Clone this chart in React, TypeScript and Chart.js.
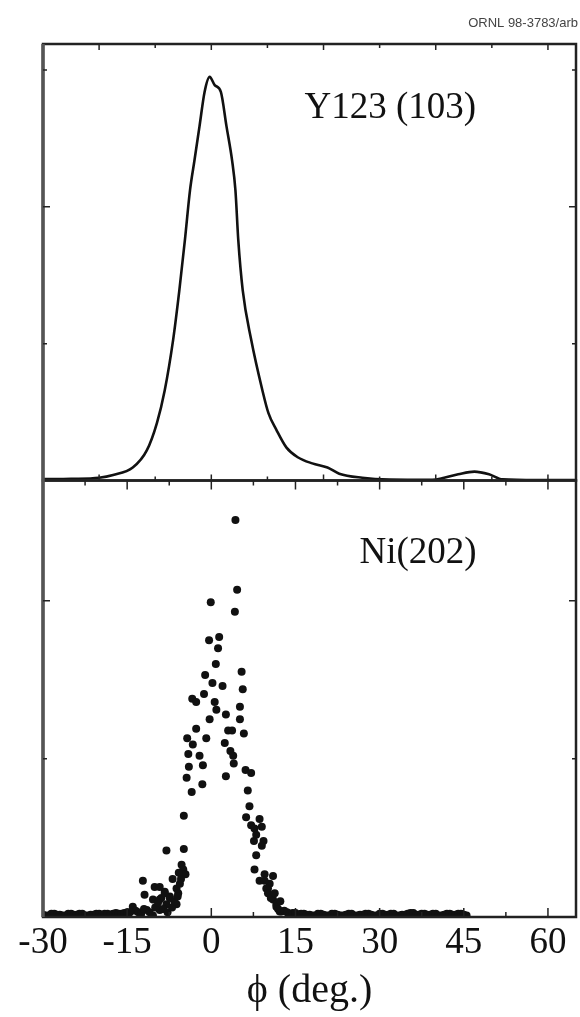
import React, { useEffect, useRef } from "react";
import { Chart, registerables } from "chart.js";

Chart.register(...registerables);

// ---- axis ranges & ticks ----
const X_MIN = -30;
const X_MAX = 65;
const X_TICK_LABELS = [-30, -15, 0, 15, 30, 45, 60];
const TOP_PANEL_EDGE_TICKS = [-20, -10, 0, 10, 20, 30, 40, 50, 60];
const BOTTOM_PANEL_EDGE_TICKS = [-22.5, -15, -7.5, 0, 7.5, 15, 22.5, 30, 37.5, 45, 52.5, 60];
const TOP_Y_MAX = 3.19;
const BOTTOM_Y_MAX = 2.76;
const TOP_Y_TICKS = [1, 2, 3];
const BOTTOM_Y_TICKS = [1, 2];

// ---- Y123 (103) phi-scan (line) ----
const y123Angle = [
  -30, -25, -20, -17.5, -14, -11.5, -9.7, -8.3, -6.8, -5.7, -4.7, -3.8, -3.0, -2.1, -1.2, -0.3,
  0.6, 1.7, 2.7, 3.7, 4.3, 4.8, 5.6, 7.1, 9.1, 10.2, 11.6, 13.4, 15.4, 18.0, 20.7, 22.8, 26.9,
  31.7, 39.4, 41.5, 44.0, 46.9, 49.5, 51.9, 58, 65,
];
const y123Intensity = [
  0.01, 0.012, 0.02, 0.04, 0.095, 0.22, 0.42, 0.66, 1.03, 1.39, 1.76, 2.12, 2.34, 2.59, 2.84, 2.95,
  2.89, 2.84, 2.59, 2.34, 2.12, 1.76, 1.39, 1.03, 0.66, 0.49, 0.37, 0.24, 0.17, 0.125, 0.095, 0.05, 0.02,
  0.007, 0.005, 0.02, 0.045, 0.065, 0.045, 0.008, 0.003, 0.003,
];

// ---- Ni (202) phi-scan (points) ----
const niPeakAngle = [
  4.3, 4.6, -0.1, 4.2, -0.4, 1.4, 1.2, 0.8, 5.4, -1.1, 0.2, 2.0, 5.6, -3.4, -2.7, -1.3,
  0.6, 5.1, 0.9, 2.6, -0.3, 5.1, -2.7, 3.0, 5.8, -4.3, -0.9, 3.7, 2.4, -3.3, 3.4, -4.1,
  -2.1, 3.9, -1.5, -4.0, 4.0, 6.1, 7.1, 2.6, -4.4, -1.6, -3.5, 6.5, 6.8, -4.9, 6.2, 8.6,
  7.1, 9.0, 7.7, 7.6, 9.3, 9.0, 8.0, 8.0, -8.0, -4.9, -5.3, -5.0, -4.6, 7.7, 9.5, 11.0,
  -12.2, -6.9, -10.1, -9.2, -11.9, 10.1, 10.4, -5.8, -8.3, -6.2, -7.4, -8.9, -10.4, -6.2, -14.0, 11.0,
  11.6, -11.5, -9.2, -8.0, -10.4, 12.5, 8.6, 9.5, 9.8, -5.9, -8.3, 10.1, -9.2, -7.4, 11.6, 12.2,
  -13.5, -13.0, -12.5, -12.0, -11.0, -10.0, -9.5, -8.6, -7.8, -7.0, -6.6, -6.0, -5.6, -5.4,
  10.6, 11.3, 11.9, 12.3, 13.0,
];
const niPeakCounts = [
  2.51, 2.07, 1.99, 1.93, 1.75, 1.77, 1.70, 1.60, 1.55, 1.53, 1.48, 1.46, 1.44, 1.38, 1.36, 1.41,
  1.36, 1.33, 1.31, 1.28, 1.25, 1.25, 1.19, 1.18, 1.16, 1.13, 1.13, 1.18, 1.10, 1.09, 1.05, 1.03,
  1.02, 1.02, 0.96, 0.95, 0.97, 0.93, 0.91, 0.89, 0.88, 0.84, 0.79, 0.80, 0.70, 0.64, 0.63, 0.62,
  0.58, 0.57, 0.56, 0.48, 0.48, 0.45, 0.52, 0.39, 0.42, 0.43, 0.33, 0.30, 0.27, 0.30, 0.27, 0.26,
  0.23, 0.24, 0.19, 0.19, 0.14, 0.18, 0.21, 0.28, 0.16, 0.18, 0.13, 0.12, 0.11, 0.08, 0.065, 0.11,
  0.08, 0.045, 0.045, 0.08, 0.01, 0.035, 0.23, 0.23, 0.18, 0.15, 0.15, 0.15, 0.11, 0.12, 0.065, 0.035,
  0.04, 0.03, 0.02, 0.05, 0.03, 0.06, 0.09, 0.05, 0.03, 0.06, 0.10, 0.13, 0.21, 0.24,
  0.12, 0.15, 0.05, 0.10, 0.04,
];
const niBaseAngle = [
  -30, -29.5, -29, -28.5, -28, -27.5, -27, -26.5, -26, -25.5, -25, -24.5, -24, -23.5, -23, -22.5,
  -22, -21.5, -21, -20.5, -20, -19.5, -19, -18.5, -18, -17.5, -17, -16.5, -16, -15.5, -15, -14.5,
  13.5, 14, 14.5, 15, 15.5, 16, 16.5, 17, 17.5, 18, 18.5, 19, 19.5, 20, 20.5, 21, 21.5, 22, 22.5,
  23, 23.5, 24, 24.5, 25, 25.5, 26, 26.5, 27, 27.5, 28, 28.5, 29, 29.5, 30, 30.5, 31, 31.5, 32,
  32.5, 33, 33.5, 34, 34.5, 35, 35.5, 36, 36.5, 37, 37.5, 38, 38.5, 39, 39.5, 40, 40.5, 41, 41.5,
  42, 42.5, 43, 43.5, 44, 44.5, 45, 45.5,
];
const niBaseCounts = [
  0.015, 0.01, 0.01, 0.02, 0.02, 0.015, 0.015, 0.01, 0.01, 0.02, 0.02, 0.015, 0.015, 0.02, 0.02, 0.01,
  0.01, 0.015, 0.015, 0.02, 0.02, 0.015, 0.02, 0.02, 0.015, 0.02, 0.025, 0.02, 0.02, 0.025, 0.03, 0.03,
  0.03, 0.02, 0.025, 0.025, 0.015, 0.02, 0.02, 0.015, 0.015, 0.01, 0.01, 0.02, 0.02, 0.015, 0.01, 0.01,
  0.02, 0.02, 0.015, 0.01, 0.01, 0.015, 0.02, 0.02, 0.01, 0.01, 0.015, 0.015, 0.02, 0.02, 0.015, 0.01,
  0.01, 0.02, 0.02, 0.015, 0.015, 0.02, 0.02, 0.01, 0.01, 0.015, 0.015, 0.02, 0.025, 0.025, 0.015, 0.015,
  0.02, 0.02, 0.015, 0.015, 0.02, 0.02, 0.01, 0.01, 0.015, 0.02, 0.02, 0.015, 0.015, 0.02, 0.02, 0.015, 0.01,
];

const SERIF = '"Liberation Serif", "Times New Roman", serif';
const INK = "#111";

const framePlugin = {
  id: "framePlugin",
  afterDatasetsDraw(chart: any) {
    const { ctx } = chart;
    const xs = chart.scales.x;
    const yt = chart.scales.yTop;
    const yb = chart.scales.yBot;
    const L = xs.left;
    const R = xs.right;
    ctx.save();
    ctx.strokeStyle = "#222";
    ctx.lineWidth = 2.5;
    ctx.strokeRect(L, yt.top, R - L, yt.bottom - yt.top);
    ctx.strokeRect(L, yb.top, R - L, yb.bottom - yb.top);
    ctx.strokeStyle = "#555";
    ctx.lineWidth = 3.5;
    ctx.beginPath();
    ctx.moveTo(L, yt.top);
    ctx.lineTo(L, yb.bottom);
    ctx.stroke();

    ctx.strokeStyle = "#222";
    ctx.lineWidth = 1.5;
    ctx.beginPath();
    // top panel: ticks every 10 deg on its top and bottom edges (inward)
    TOP_PANEL_EDGE_TICKS.forEach((v) => {
      const p = xs.getPixelForValue(v);
      const len = v % 20 === 0 ? 6 : 4;
      ctx.moveTo(p, yt.top);
      ctx.lineTo(p, yt.top + len);
      ctx.moveTo(p, yt.bottom);
      ctx.lineTo(p, yt.bottom - len);
    });
    // bottom panel: ticks every 7.5 deg on its top and bottom edges (inward)
    BOTTOM_PANEL_EDGE_TICKS.forEach((v) => {
      const p = xs.getPixelForValue(v);
      const len = v % 15 === 0 ? 9 : 5;
      ctx.moveTo(p, yb.top);
      ctx.lineTo(p, yb.top + len);
      ctx.moveTo(p, yb.bottom);
      ctx.lineTo(p, yb.bottom - len);
    });
    // y ticks on left and right edges
    const yTicks = (scale: any, vals: number[]) => {
      vals.forEach((v) => {
        const p = scale.getPixelForValue(v);
        const len = v % 2 === 0 ? 7 : 4;
        ctx.moveTo(L, p);
        ctx.lineTo(L + len, p);
        ctx.moveTo(R, p);
        ctx.lineTo(R - len, p);
      });
    };
    yTicks(yt, TOP_Y_TICKS);
    yTicks(yb, BOTTOM_Y_TICKS);
    ctx.stroke();

    // panel labels
    ctx.fillStyle = INK;
    ctx.font = `37px ${SERIF}`;
    ctx.textAlign = "left";
    ctx.textBaseline = "alphabetic";
    ctx.fillText("Y123 (103)", xs.getPixelForValue(16.6), yt.getPixelForValue(2.65));
    ctx.fillText("Ni(202)", xs.getPixelForValue(26.4), yb.getPixelForValue(2.24));

    // figure id
    ctx.fillStyle = "#444";
    ctx.font = '13px "Liberation Sans", Arial, sans-serif';
    ctx.textAlign = "right";
    ctx.fillText("ORNL 98-3783/arb", chart.width - 2, 27);
    ctx.restore();
  },
};

export default function App() {
  const ref = useRef<HTMLCanvasElement | null>(null);

  useEffect(() => {
    document.body.style.margin = "0";
    document.body.style.background = "#fff";
    const canvas = ref.current;
    if (!canvas) return;

    const chart = new Chart(canvas, {
      type: "scatter",
      data: {
        datasets: [
          {
            label: "Y123 (103)",
            data: y123Angle.map((a, i) => ({ x: a, y: y123Intensity[i] })),
            showLine: true,
            cubicInterpolationMode: "monotone",
            borderColor: INK,
            borderWidth: 2.6,
            pointRadius: 0,
            xAxisID: "x",
            yAxisID: "yTop",
          } as any,
          {
            label: "Ni(202) base",
            data: niBaseAngle.map((a, i) => ({ x: a, y: niBaseCounts[i] })),
            pointRadius: 4,
            pointBorderWidth: 0,
            backgroundColor: INK,
            borderColor: INK,
            xAxisID: "x",
            yAxisID: "yBot",
          },
          {
            label: "Ni(202)",
            data: niPeakAngle.map((a, i) => ({ x: a, y: niPeakCounts[i] })),
            pointRadius: 4,
            pointBorderWidth: 0,
            backgroundColor: INK,
            borderColor: INK,
            xAxisID: "x",
            yAxisID: "yBot",
          },
        ],
      },
      options: {
        animation: false,
        responsive: false,
        maintainAspectRatio: false,
        layout: { padding: { left: 43, right: 3, top: 44, bottom: 0 } },
        plugins: {
          legend: { display: false },
          tooltip: { enabled: false },
        },
        scales: {
          x: {
            type: "linear",
            position: "bottom",
            min: X_MIN,
            max: X_MAX,
            afterBuildTicks: (s: any) => {
              s.ticks = X_TICK_LABELS.map((v) => ({ value: v }));
            },
            afterFit: (s: any) => {
              s.height = 100;
            },
            ticks: {
              autoSkip: false,
              maxRotation: 0,
              color: INK,
              padding: 4,
              font: { family: SERIF, size: 37 },
              callback: (v: any) => String(v),
            },
            grid: { display: false, drawTicks: false },
            border: { display: false },
            title: {
              display: true,
              text: "ϕ (deg.)",
              color: INK,
              font: { family: SERIF, size: 40 },
              padding: { top: 0, bottom: 2 },
            },
          },
          yBot: {
            type: "linear",
            position: "left",
            stack: "panels",
            stackWeight: 1,
            min: 0,
            max: BOTTOM_Y_MAX,
            display: false,
          },
          yTop: {
            type: "linear",
            position: "left",
            stack: "panels",
            stackWeight: 1,
            min: 0,
            max: TOP_Y_MAX,
            display: false,
          },
        } as any,
      },
      plugins: [framePlugin],
    });

    return () => chart.destroy();
  }, []);

  return (
    <div style={{ width: 580, height: 1017, background: "#fff" }}>
      <canvas ref={ref} width={580} height={1017} style={{ display: "block" }} />
    </div>
  );
}
